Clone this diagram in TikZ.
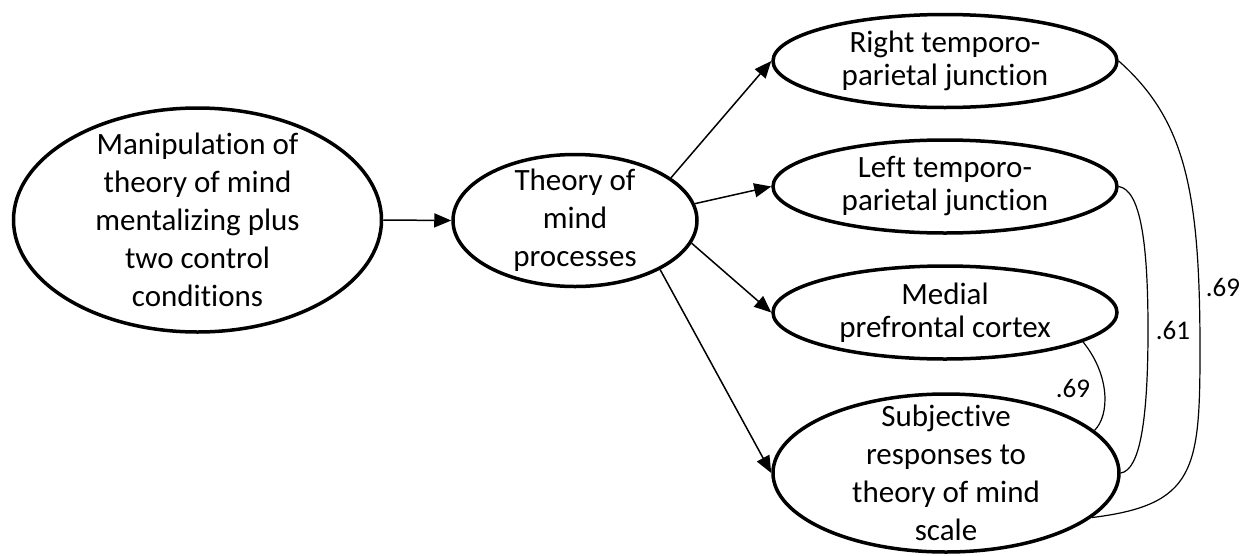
\documentclass[tikz,border=0pt]{standalone}
\usepackage{fontspec}
\setmainfont{Carlito}[Ligatures=NoCommon]
\usetikzlibrary{arrows.meta,shapes.geometric}
\begin{document}
\begin{tikzpicture}[x=1pt,y=-1pt,
  ell/.style={ellipse, draw, line width=3.5pt, inner sep=0pt},
  txt/.style={align=center, inner sep=0pt, font=\fontsize{31}{38}\selectfont},
  tighttxt/.style={txt, font=\fontsize{31}{33}\selectfont},
  arr/.style={line width=1.5pt, -{Triangle[length=17pt,width=14pt]}},
  cov/.style={line width=1.2pt},
  val/.style={inner sep=0pt, font=\fontsize{27}{30}\selectfont}]
\useasboundingbox (0,0) rectangle (1251,555);

% latent variables
\node[ell, minimum width=368pt, minimum height=224pt,
  label={[txt]center:Manipulation of\\theory of mind\\mentalizing plus\\two control\\conditions}]
  (man) at (197.5,220) {};
\node[ell, minimum width=244pt, minimum height=132pt,
  label={[txt]center:Theory of\\mind\\processes}]
  (tom) at (575,220.5) {};
\node[ell, minimum width=344pt, minimum height=93pt,
  label={[tighttxt]center:Right temporo-\\parietal junction}]
  (rtpj) at (945,61) {};
\node[ell, minimum width=344pt, minimum height=93pt,
  label={[tighttxt]center:Left temporo-\\parietal junction}]
  (ltpj) at (945,186.5) {};
\node[ell, minimum width=344pt, minimum height=93pt,
  label={[tighttxt]center:Medial\\prefrontal cortex}]
  (mpfc) at (945,312.5) {};
\node[ell, minimum width=346pt, minimum height=158pt,
  label={[txt]center:Subjective\\responses to\\theory of mind\\scale}]
  (subj) at (946,473) {};

% directed paths
\draw[arr] (man.east) -- (tom.west);
\draw[arr] (tom.24.2) -- (rtpj.west);
\draw[arr] (tom.8.3) -- (ltpj.west);
\draw[arr] (tom.-11.8) -- (mpfc.west);
\draw[arr] (tom.-30.6) -- (subj.west);

% correlations
\draw[cov] (rtpj.east) .. controls (1185,120) and (1200,190) .. (1200,350)
  .. controls (1200,470) and (1195,505) .. (subj.-17);
\draw[cov] (ltpj.east) .. controls (1140,190) and (1148,240) .. (1148,330)
  .. controls (1148,420) and (1140,470) .. (subj.east);
\draw[cov] (mpfc.-12.7) .. controls (1110,375) and (1110,415) .. (subj.16.8);

% correlation values
\node[val] (r1) at (1223,287) {.69};
\node[val] (r2) at (1173,330) {.61};
\node[val] (r3) at (1073,388) {.69};
\end{tikzpicture}
\end{document}
